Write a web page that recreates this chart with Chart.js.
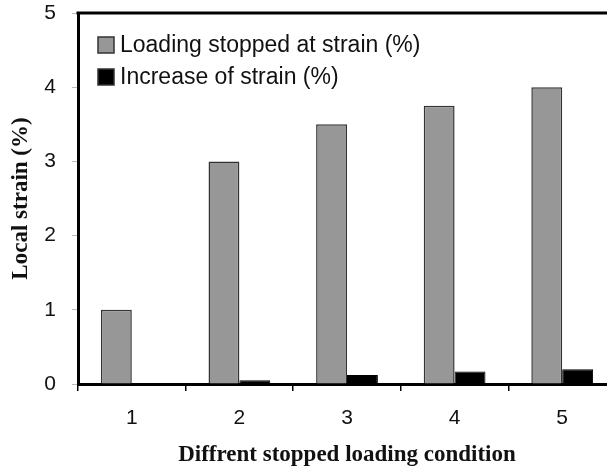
<!DOCTYPE html>
<html>
<head>
<meta charset="utf-8">
<script src="https://cdn.jsdelivr.net/npm/chart.js@4.4.0/dist/chart.umd.min.js"></script>
<style>
  html, body { margin: 0; padding: 0; background: #fff; overflow: hidden; }
  #wrap { width: 640px; height: 470px; position: relative; }
</style>
</head>
<body>
<div id="wrap"><canvas id="chart"></canvas></div>
<script>
// stopped loading conditions and measured strains
const conditions = ["1", "2", "3", "4", "5"];
const stoppedAt = [1, 3, 3.5, 3.75, 4];
const increase = [0, 0.05, 0.12, 0.17, 0.2];
const yTicks = [0, 1, 2, 3, 4, 5];

const sansFont = "'Liberation Sans', Arial, sans-serif";
const serifFont = "'Liberation Serif', 'Times New Roman', serif";

// top frame line plus the legend drawn inside the plot area
const framePlugin = {
  id: "frame",
  afterDraw(chart) {
    const { ctx, chartArea } = chart;
    ctx.save();
    ctx.strokeStyle = "#000";
    ctx.lineWidth = 3;
    ctx.beginPath();
    ctx.moveTo(chartArea.left - 1.5, chartArea.top);
    ctx.lineTo(chartArea.right, chartArea.top);
    ctx.lineTo(chartArea.right, chartArea.bottom);
    ctx.stroke();

    ctx.font = "23px " + sansFont;
    ctx.textBaseline = "middle";
    chart.data.datasets.forEach((ds, i) => {
      const y = 45 + i * 32;
      ctx.fillStyle = ds.backgroundColor;
      ctx.fillRect(98, y - 8, 16, 16);
      ctx.lineWidth = 1.5;
      ctx.strokeStyle = "#333";
      ctx.strokeRect(98, y - 8, 16, 16);
      ctx.fillStyle = "#111";
      ctx.fillText(ds.label, 120, y + 1);
    });
    ctx.restore();
  }
};

new Chart(document.getElementById("chart"), {
  type: "bar",
  data: {
    labels: conditions,
    datasets: [
      {
        label: "Loading stopped at strain (%)",
        data: stoppedAt,
        backgroundColor: "#979797",
        borderColor: "#333",
        borderWidth: 1.5,
        borderSkipped: "bottom"
      },
      {
        label: "Increase of strain (%)",
        data: increase,
        backgroundColor: "#000",
        borderColor: "#000",
        borderWidth: 1,
        borderSkipped: "bottom"
      }
    ]
  },
  options: {
    responsive: true,
    maintainAspectRatio: false,
    animation: false,
    layout: { padding: { top: 13, right: 24, left: 0, bottom: 0 } },
    datasets: { bar: { categoryPercentage: 0.574, barPercentage: 1 } },
    plugins: {
      legend: { display: false },
      tooltip: { enabled: false }
    },
    scales: {
      x: {
        afterFit: (scale) => {
          scale.height = 86;
          scale.paddingLeft = 0;
          scale.paddingRight = 0;
        },
        grid: {
          offset: true,
          drawOnChartArea: false,
          drawTicks: true,
          tickLength: 7,
          color: "#000",
          lineWidth: 1.5
        },
        border: { display: true, color: "#000", width: 3 },
        ticks: {
          padding: 15,
          color: "#111",
          font: { family: sansFont, size: 21 }
        },
        title: {
          display: true,
          text: "Diffrent stopped loading condition",
          color: "#111",
          padding: { top: 0, bottom: 1 },
          font: { family: serifFont, size: 23, weight: "bold" }
        }
      },
      y: {
        min: 0,
        max: 5,
        afterFit: (scale) => {
          scale.width = 78;
          scale.paddingTop = 0;
          scale.paddingBottom = 0;
        },
        afterBuildTicks: (scale) => { scale.ticks = yTicks.map(v => ({ value: v })); },
        grid: {
          drawOnChartArea: false,
          drawTicks: true,
          tickLength: 6,
          color: "#bbb",
          lineWidth: 1
        },
        border: { display: true, color: "#000", width: 3 },
        ticks: {
          padding: 16,
          color: "#111",
          font: { family: sansFont, size: 21 }
        },
        title: {
          display: true,
          text: "Local strain (%)",
          color: "#111",
          padding: { top: 7, bottom: 0 },
          font: { family: serifFont, size: 23, weight: "bold" }
        }
      }
    }
  },
  plugins: [framePlugin]
});
</script>
</body>
</html>
